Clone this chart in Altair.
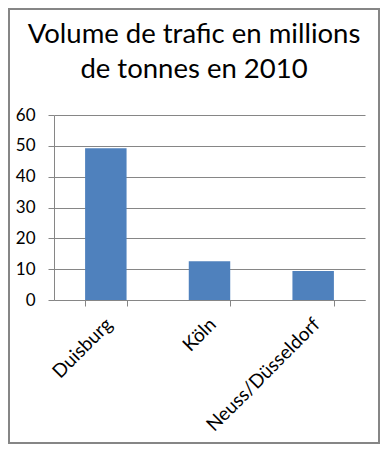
import altair as alt
import pandas as pd

villes = ["Duisburg", "Köln", "Neuss/Düsseldorf"]
volumes = [49.2, 12.6, 9.4]
y_ticks = [0, 10, 20, 30, 40, 50, 60]
titre = ["Volume de trafic en millions", "de tonnes en 2010"]

df = pd.DataFrame({"ville": villes, "volume": volumes})

FONT = "Lato"
GRAY = "#868686"

bars = alt.Chart(df).mark_bar(color="#4F81BD").encode(
    x=alt.X(
        "ville:N",
        sort=villes,
        title=None,
        scale=alt.Scale(paddingInner=0.6, paddingOuter=0.3),
        axis=alt.Axis(
            labelAngle=-45,
            labelAlign="right",
            labelBaseline="middle",
            labelFont=FONT,
            labelFontSize=19,
            labelColor="black",
            labelPadding=15,
            labelOffset=3,
            tickBand="extent",
            tickSize=6,
            tickColor=GRAY,
            domainColor=GRAY,
            grid=False,
        ),
    ),
    y=alt.Y(
        "volume:Q",
        title=None,
        scale=alt.Scale(domain=[0, 60], nice=False),
        axis=alt.Axis(
            values=y_ticks,
            labelFont=FONT,
            labelFontSize=17,
            labelColor="black",
            labelPadding=13,
            tickSize=6,
            tickColor=GRAY,
            domainColor=GRAY,
            gridColor=GRAY,
        ),
    ),
)

one = pd.DataFrame({"a": [0]})

border = alt.Chart(one).mark_rect(
    fill=None, stroke=GRAY, strokeWidth=2
).encode(
    x=alt.value(-45), x2=alt.value(325), y=alt.value(-106), y2=alt.value(328)
)

title1 = alt.Chart(one).mark_text(
    font=FONT, fontSize=27.5, color="black", align="center", baseline="alphabetic"
).encode(x=alt.value(140), y=alt.value(-72), text=alt.value(titre[0]))

title2 = alt.Chart(one).mark_text(
    font=FONT, fontSize=27.5, color="black", align="center", baseline="alphabetic"
).encode(x=alt.value(140), y=alt.value(-37), text=alt.value(titre[1]))

chart = alt.layer(bars, border, title1, title2).properties(
    width=311,
    height=185,
    autosize=alt.AutoSizeParams(type="none"),
    padding={"left": 46, "top": 107, "right": 15, "bottom": 144},
).configure_view(stroke=None)

chart.save("out.html", embed_options={"renderer": "svg", "actions": False})
